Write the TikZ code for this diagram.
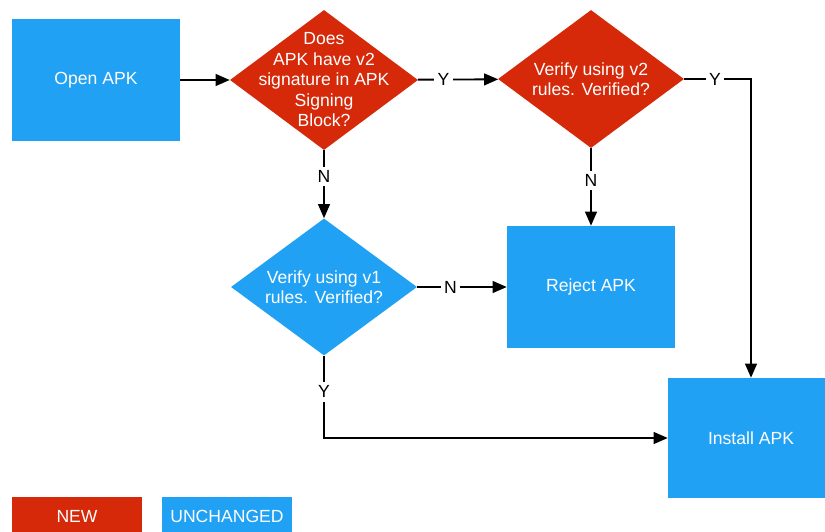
\documentclass[tikz,border=0pt]{standalone}
\usepackage{fontspec}
\setmainfont{Liberation Sans}
\usetikzlibrary{shapes.geometric,arrows.meta}
\definecolor{newred}{RGB}{213,41,10}
\definecolor{oldblue}{RGB}{32,161,244}
\tikzset{
x=0.03cm, y=-0.03cm,
every node/.style={font=\fontsize{15}{17.5}\selectfont},
oldbox/.style={rectangle,fill=oldblue,text=white,inner sep=0pt},
newbox/.style={rectangle,fill=newred,text=white,inner sep=0pt},
olddecision/.style={diamond,fill=oldblue,inner sep=0pt},
newdecision/.style={diamond,fill=newred,inner sep=0pt},
dtext/.style={text=white,align=center},
flow/.style={line width=1.6pt,draw=black,-{Triangle[length=12pt,width=10pt]}},
answer/.style={fill=white,inner sep=3pt,text=black},
}
\begin{document}
\begin{tikzpicture}
\useasboundingbox[fill=white] (0,0) rectangle (825,531);
\node[oldbox,minimum width=5.04cm,minimum height=3.66cm] (open) at (96,80) {Open APK};
\node[newdecision,minimum width=5.64cm,minimum height=4.2cm,
  label={[dtext]center:{Does\\APK have v2\\signature in APK\\Signing\\Block?}}] (hasv2) at (324,80) {};
\node[newdecision,minimum width=5.58cm,minimum height=4.14cm,
  label={[dtext]center:{Verify using v2\\rules. Verified?}}] (verv2) at (591,79) {};
\node[olddecision,minimum width=5.58cm,minimum height=4.11cm,
  label={[dtext]center:{Verify using v1\\rules. Verified?}}] (verv1) at (324,287) {};
\node[oldbox,minimum width=5.04cm,minimum height=3.66cm] (reject) at (591,287) {Reject APK};
\node[oldbox,minimum width=4.98cm,minimum height=3.6cm] (install) at (751,438) {Install APK};
% legend
\node[newbox,minimum width=3.9cm,minimum height=1.14cm] (keynew) at (77,516) {NEW};
\node[oldbox,minimum width=3.9cm,minimum height=1.14cm] (keyold) at (227,516) {UNCHANGED};
% connectors
\draw[flow] (open) -- (hasv2);
\draw[flow] (hasv2) -- node[answer,pos=0.32] {Y} (verv2);
\draw[flow] (hasv2) -- node[answer,pos=0.38] {N} (verv1);
\draw[flow] (verv2.east) -| node[answer,pos=0.23] {Y} (install.north);
\draw[flow] (verv2) -- node[answer,pos=0.42] {N} (reject);
\draw[flow] (verv1) -- node[answer,pos=0.37] {N} (reject);
\draw[flow] (verv1.south) |- node[answer,pos=0.22] {Y} (install.west);
\end{tikzpicture}
\end{document}
